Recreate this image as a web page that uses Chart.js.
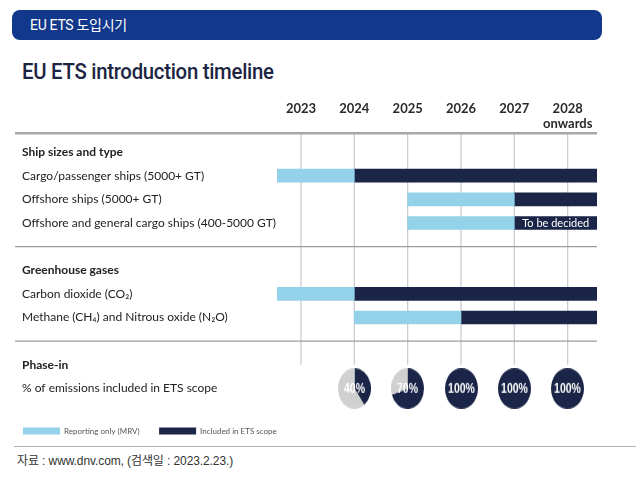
<!DOCTYPE html>
<html><head><meta charset="utf-8">
<script src="https://cdn.jsdelivr.net/npm/chart.js@4.4.1/dist/chart.umd.min.js"></script>
<style>
html,body{margin:0;padding:0;background:#fff;width:636px;height:477px;overflow:hidden;position:relative;font-family:'Noto Sans CJK KR','Noto Sans',sans-serif;}
#banner{position:absolute;left:12px;top:10px;width:590px;height:30px;background:#11388a;border-radius:8px;color:#fff;font-family:Roboto,'Noto Sans CJK KR',sans-serif;font-size:14px;letter-spacing:-0.3px;line-height:30px;padding-left:18px;box-sizing:border-box;}
#title{position:absolute;left:22px;top:59px;font-family:Roboto,'Noto Sans',sans-serif;font-weight:500;font-size:22px;color:#1c2543;letter-spacing:-0.3px;white-space:nowrap;transform:scaleX(0.925);transform-origin:0 0;}
#main{position:absolute;left:0;top:0;width:636px;height:445px;}
#rule{position:absolute;left:14px;top:446px;width:622px;height:1px;background:#b5b5b5;}
#source{position:absolute;left:17px;top:451px;font-family:'Liberation Sans','Noto Sans CJK KR',sans-serif;font-size:12px;letter-spacing:-0.1px;color:#333;white-space:nowrap;}
.pie{position:absolute;width:33px;height:33px;transform:scaleY(1.24);z-index:5;}
</style></head>
<body>
<div id="banner">EU ETS 도입시기</div>
<div id="title">EU ETS introduction timeline</div>
<div id="main"><canvas id="c"></canvas></div>
<div id="rule"></div>
<div id="source">자료 : www.dnv.com, (검색일 : 2023.2.23.)</div>
<script>
// ---- data ----
const rowLabels = [
  'Ship sizes and type',
  'Cargo/passenger ships (5000+ GT)',
  'Offshore ships (5000+ GT)',
  'Offshore and general cargo ships (400-5000 GT)',
  '',
  'Greenhouse gases',
  'Carbon dioxide (CO₂)',
  'Methane (CH₄) and Nitrous oxide (N₂O)',
  '',
  'Phase-in',
  '% of emissions included in ETS scope'
];
const headerRows = [0, 5, 9];
const separatorRows = [4, 8];
const yearTicks = [2023, 2024, 2025, 2026, 2027, 2028];
const yearLabels = [['2023',''], ['2024',''], ['2025',''], ['2026',''], ['2027',''], ['2028','onwards']];
const xMin = 2022.55;
const xMax = 2028.55;
const mrvBars = [null, [2022.55, 2024], [2025, 2027], [2025, 2027], null, null, [2022.55, 2024], [2024, 2026], null, null, null];
const etsBars = [null, [2024, 2028.55], [2027, 2028.55], [2027, 2028.55], null, null, [2024, 2028.55], [2026, 2028.55], null, null, null];
const etsNotes = [null, null, null, 'To be decided', null, null, null, null, null, null, null];
const phaseYears = [2024, 2025, 2026, 2027, 2028];
const phasePct = [40, 70, 100, 100, 100];
const phaseRow = 10;
const seriesNames = ['Reporting only (MRV)', 'Included in ETS scope'];

// ---- styles ----
const NAVY = '#1b2547';
const LIGHT = '#93d2e9';
const LABEL_X = 22;

const decor = {
  id: 'decor',
  afterLayout(chart) { const s = chart.scales.y; s.left = LABEL_X; s.right += 12; },
  beforeDatasetsDraw(chart) {
    const {ctx, chartArea, scales: {x, y}} = chart;
    const left = 15, right = chartArea.right;
    const topY = chartArea.top - 7;
    const line = (x1, y1, x2, y2) => { ctx.beginPath(); ctx.moveTo(x1, y1); ctx.lineTo(x2, y2); ctx.stroke(); };
    ctx.save();
    ctx.strokeStyle = '#c9ccd4'; ctx.lineWidth = 1.3;
    const gridBottom = y.getPixelForValue(headerRows[2]);
    yearTicks.forEach(v => { const px = x.getPixelForValue(v); line(px, topY, px, gridBottom); });
    ctx.strokeStyle = '#a8a8a8'; ctx.lineWidth = 2.5;
    line(left, topY, right, topY);
    ctx.strokeStyle = '#9c9c9c'; ctx.lineWidth = 1.2;
    separatorRows.forEach(r => { const py = y.getPixelForValue(r); line(left, py, right, py); });
    ctx.restore();
  },
  afterDatasetsDraw(chart) {
    const {ctx} = chart;
    const meta = chart.getDatasetMeta(1);
    ctx.save();
    ctx.fillStyle = '#ffffff';
    ctx.font = '11px Lato, sans-serif';
    ctx.textAlign = 'center'; ctx.textBaseline = 'middle';
    etsNotes.forEach((n, i) => {
      if (!n) return;
      const el = meta.data[i];
      ctx.fillText(n, (el.x + el.base) / 2, el.y + 0.5);
    });
    ctx.restore();
  }
};

const mainChart = new Chart(document.getElementById('c'), {
  type: 'bar',
  data: {
    labels: rowLabels,
    datasets: [
      {label: seriesNames[0], data: mrvBars, backgroundColor: LIGHT, barThickness: 13, grouped: false, borderWidth: 0},
      {label: seriesNames[1], data: etsBars, backgroundColor: NAVY, barThickness: 13, grouped: false, borderWidth: 0}
    ]
  },
  options: {
    indexAxis: 'y',
    responsive: true,
    maintainAspectRatio: false,
    animation: false,
    events: [],
    layout: {padding: {left: 3.5, right: 39, top: 86.2, bottom: 0}},
    scales: {
      x: {
        type: 'linear', position: 'top', min: xMin, max: xMax,
        grid: {display: false}, border: {display: false},
        afterBuildTicks(s) { s.ticks = yearTicks.map(v => ({value: v})); },
        afterFit(s) { s.height = 54; },
        ticks: {
          callback: (v, i) => yearLabels[i],
          font: {family: 'Lato', size: 13, weight: 'bold', lineHeight: 1.15},
          color: '#2a2a2a', padding: 0.75, maxRotation: 0, autoSkip: false
        }
      },
      y: {
        type: 'category', position: 'left',
        grid: {display: false}, border: {display: false},
        afterFit(s) { s.width = 273.5; },
        ticks: {
          crossAlign: 'far', autoSkip: false, padding: 0, color: '#222',
          font: (c) => ({family: 'Lato', size: 12, weight: headerRows.includes(c.index) ? 'bold' : 'normal'})
        }
      }
    },
    plugins: {
      legend: {
        position: 'bottom', align: 'start',
        title: {display: true, text: ' ', padding: 0, font: {size: 6}},
        labels: {boxWidth: 37, boxHeight: 7, padding: 19.5, color: '#555', font: {family: 'Lato', size: 8}}
      },
      tooltip: {enabled: false}
    }
  },
  plugins: [decor]
});

const pctLabel = {
  id: 'pctLabel',
  afterDraw(chart) {
    const {ctx, chartArea} = chart;
    const pct = chart.data.datasets[0].data[0];
    ctx.save();
    ctx.fillStyle = '#fff';
    ctx.font = 'bold 10.5px "Liberation Sans", Arial, sans-serif';
    ctx.textAlign = 'center'; ctx.textBaseline = 'middle';
    ctx.fillText(pct + '%', (chartArea.left + chartArea.right) / 2, (chartArea.top + chartArea.bottom) / 2 + 0.5);
    ctx.restore();
  }
};

const xs = mainChart.scales.x, ys = mainChart.scales.y;
phaseYears.forEach((yr, i) => {
  const cx = xs.getPixelForValue(yr), cy = ys.getPixelForValue(phaseRow);
  const div = document.createElement('div');
  div.className = 'pie';
  div.style.left = (cx - 16.5) + 'px';
  div.style.top = (cy - 16.5) + 'px';
  const cv = document.createElement('canvas');
  cv.width = 33; cv.height = 33;
  div.appendChild(cv);
  document.body.appendChild(div);
  new Chart(cv, {
    type: 'pie',
    data: {labels: seriesNames, datasets: [{data: [phasePct[i], 100 - phasePct[i]], backgroundColor: [NAVY, '#d0d0d0'], borderWidth: 0}]},
    options: {responsive: false, animation: false, events: [], plugins: {legend: {display: false}, tooltip: {enabled: false}}},
    plugins: [pctLabel]
  });
});
</script>
</body></html>
